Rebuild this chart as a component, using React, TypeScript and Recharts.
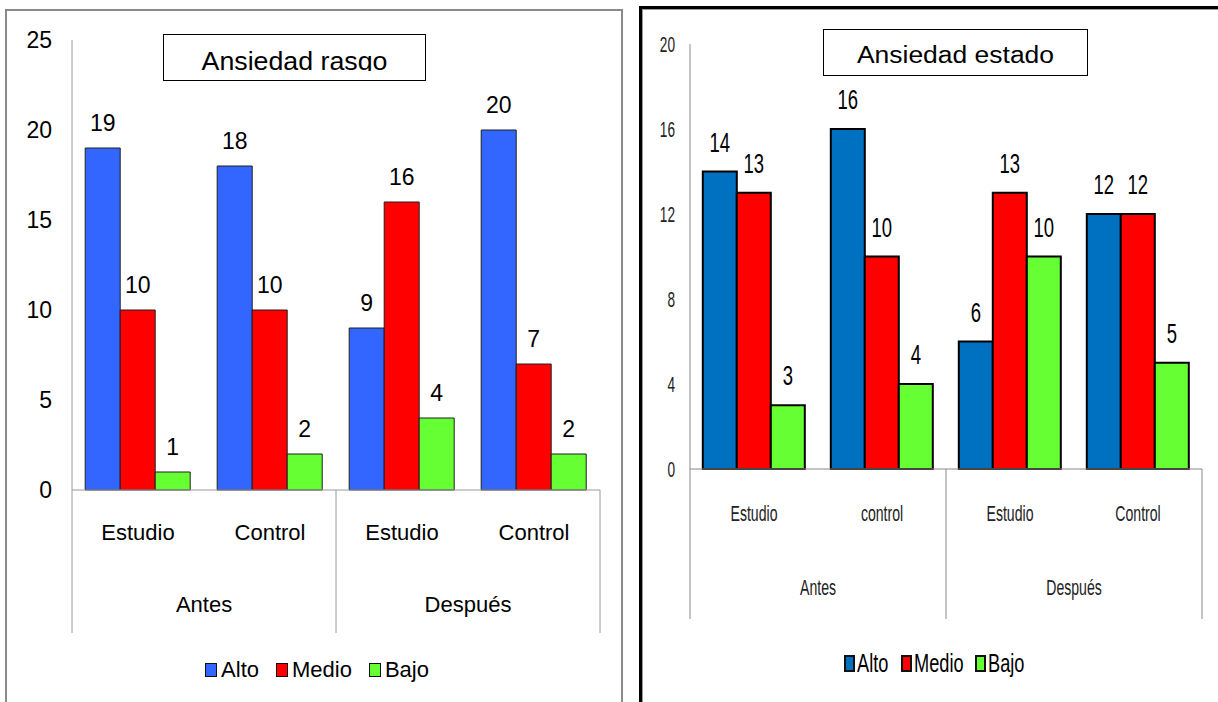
import React from 'react';
import { BarChart, Bar, XAxis, YAxis, Legend, LabelList } from 'recharts';

// ---------- data ----------
const seriesNames = ['Alto', 'Medio', 'Bajo'];

const rasgoCategories = ['Estudio', 'Control', 'Estudio', 'Control'];
const rasgoGroups = ['Antes', 'Antes', 'Después', 'Después'];
const rasgoAlto = [19, 18, 9, 20];
const rasgoMedio = [10, 10, 16, 7];
const rasgoBajo = [1, 2, 4, 2];
const rasgoTicks = [0, 5, 10, 15, 20, 25];

const estadoCategories = ['Estudio', 'control', 'Estudio', 'Control'];
const estadoGroups = ['Antes', 'Antes', 'Después', 'Después'];
const estadoAlto = [14, 16, 6, 12];
const estadoMedio = [13, 10, 13, 12];
const estadoBajo = [3, 4, 10, 5];
const estadoTicks = [0, 4, 8, 12, 16, 20];

const rasgoColors = ['#3366FF', '#FF0000', '#66FF33'];
const estadoColors = ['#0070C0', '#FF0000', '#66FF33'];

const buildRows = (cats: string[], groups: string[], a: number[], m: number[], b: number[]) =>
  cats.map((c, i) => ({ name: c, group: groups[i], [seriesNames[0]]: a[i], [seriesNames[1]]: m[i], [seriesNames[2]]: b[i] }));

const rasgoRows = buildRows(rasgoCategories, rasgoGroups, rasgoAlto, rasgoMedio, rasgoBajo);
const estadoRows = buildRows(estadoCategories, estadoGroups, estadoAlto, estadoMedio, estadoBajo);

const ARIAL = "'Liberation Sans', Arial, Helvetica, sans-serif";

// ---------- helpers ----------
const measureText = (text: string, size: number, family: string) => {
  try {
    const ctx = document.createElement('canvas').getContext('2d');
    if (ctx) {
      ctx.font = `${size}px ${family}`;
      return ctx.measureText(text).width;
    }
  } catch (e) {
    /* ignore */
  }
  return text.length * size * 0.55;
};

const ScaledText = ({ x, y, sx = 1, anchor = 'middle', size, fill = '#000', family = ARIAL, children }: any) => (
  <text
    transform={`translate(${x},${y}) scale(${sx},1)`}
    x={0}
    y={0}
    textAnchor={anchor}
    fontSize={size}
    fontFamily={family}
    fill={fill}
  >
    {children}
  </text>
);

type TickOpts = {
  groups: string[];
  catDy: number;
  groupDy: number;
  lineLen: number;
  size: number;
  sx: number;
  fill: string;
  lineColor: string;
};

const makeGroupedTick = (o: TickOpts) => (props: any) => {
  const { x, y, payload, index, width, visibleTicksCount } = props;
  const count = visibleTicksCount || o.groups.length;
  const half = payload && payload.offset ? payload.offset : width / count / 2;
  const g = o.groups[index];
  const isFirst = index === 0 || o.groups[index - 1] !== g;
  const isLast = index === o.groups.length - 1 || o.groups[index + 1] !== g;
  const size = o.groups.filter((gg) => gg === g).length;
  const groupCenter = x - half + size * half;
  return (
    <g>
      <ScaledText x={x} y={y + o.catDy} sx={o.sx} size={o.size} fill={o.fill}>
        {payload.value}
      </ScaledText>
      {isFirst && (
        <ScaledText x={groupCenter} y={y + o.groupDy} sx={o.sx} size={o.size} fill={o.fill}>
          {g}
        </ScaledText>
      )}
      {index === 0 && (
        <line x1={x - half} x2={x - half} y1={y} y2={y + o.lineLen} stroke={o.lineColor} strokeWidth={1} />
      )}
      {isLast && (
        <line x1={x + half} x2={x + half} y1={y} y2={y + o.lineLen} stroke={o.lineColor} strokeWidth={1} />
      )}
    </g>
  );
};

const makeYTick = (size: number, sx: number, fill: string) => (props: any) => (
  <ScaledText x={props.x} y={props.y + size * 0.35} sx={sx} anchor="end" size={size} fill={fill}>
    {props.payload.value}
  </ScaledText>
);

const makeValueLabel = (size: number, sx: number, gap: number, fill: string) => (props: any) => {
  const { x, y, width, value } = props;
  return (
    <ScaledText x={Number(x) + Number(width) / 2} y={Number(y) - gap} sx={sx} size={size} fill={fill}>
      {value}
    </ScaledText>
  );
};

type LegendOpts = {
  size: number;
  sx: number;
  iconW: number;
  iconH: number;
  iconBorder: number;
  iconGap: number;
  itemGap: number;
  color: string;
};

const makeLegend = (o: LegendOpts) => (props: any) => {
  const payload = [...(props.payload || [])].sort(
    (a: any, b: any) => seriesNames.indexOf(String(a.value)) - seriesNames.indexOf(String(b.value))
  );
  return (
    <div
      style={{
        display: 'flex',
        justifyContent: 'center',
        alignItems: 'center',
        height: 30,
        fontFamily: ARIAL,
        fontSize: o.size,
        color: o.color,
      }}
    >
      {payload.map((p: any, i: number) => {
        const label = String(p.value);
        const w = measureText(label, o.size, ARIAL) * o.sx;
        return (
          <span
            key={label}
            style={{ display: 'flex', alignItems: 'center', marginRight: i < payload.length - 1 ? o.itemGap : 0 }}
          >
            <span
              style={{
                display: 'inline-block',
                width: o.iconW,
                height: o.iconH,
                background: p.color,
                border: `${o.iconBorder}px solid #111`,
                boxSizing: 'border-box',
                marginRight: o.iconGap,
              }}
            />
            <span style={{ display: 'inline-block', width: w, lineHeight: `${o.size}px`, whiteSpace: 'nowrap' }}>
              <span
                style={{
                  display: 'inline-block',
                  transform: `scaleX(${o.sx})`,
                  transformOrigin: 'left center',
                }}
              >
                {label}
              </span>
            </span>
          </span>
        );
      })}
    </div>
  );
};

// ---------- left chart: Ansiedad rasgo ----------
const RasgoChart = () => (
  <BarChart
    width={625}
    height={702}
    data={rasgoRows}
    margin={{ top: 40, right: 25, bottom: 70, left: 0 }}
    barCategoryGap="10%"
    barGap={0}
  >
    <XAxis
      dataKey="name"
      interval={0}
      height={142}
      tickSize={0}
      tickMargin={0}
      tickLine={false}
      axisLine={{ stroke: '#9a9a9a' }}
      tick={makeGroupedTick({
        groups: rasgoGroups,
        catDy: 50,
        groupDy: 122,
        lineLen: 143,
        size: 22,
        sx: 1,
        fill: '#000',
        lineColor: '#9a9a9a',
      })}
    />
    <YAxis
      width={72}
      domain={[0, 25]}
      ticks={rasgoTicks}
      interval={0}
      tickSize={0}
      tickMargin={20}
      tickLine={false}
      axisLine={{ stroke: '#9a9a9a' }}
      tick={makeYTick(23, 1, '#000')}
    />
    <Legend
      verticalAlign="middle"
      align="center"
      layout="horizontal"
      wrapperStyle={{ top: 655, left: 0, width: 634 }}
      content={makeLegend({
        size: 22,
        sx: 1,
        iconW: 12,
        iconH: 14,
        iconBorder: 1,
        iconGap: 4,
        itemGap: 17,
        color: '#000',
      })}
    />
    {seriesNames.map((s, i) => (
      <Bar key={s} dataKey={s} name={s} fill={rasgoColors[i]} stroke="#1e1e1e" strokeWidth={1} isAnimationActive={false}>
        <LabelList dataKey={s} content={makeValueLabel(23, 1, 17, '#000')} />
      </Bar>
    ))}
  </BarChart>
);

// ---------- right chart: Ansiedad estado ----------
const EstadoChart = () => (
  <BarChart
    width={575}
    height={702}
    data={estadoRows}
    margin={{ top: 44, right: 16, bottom: 83, left: 0 }}
    barCategoryGap="10%"
    barGap={0}
  >
    <XAxis
      dataKey="name"
      interval={0}
      height={150}
      tickSize={0}
      tickMargin={0}
      tickLine={false}
      axisLine={{ stroke: '#8a8a8a' }}
      tick={makeGroupedTick({
        groups: estadoGroups,
        catDy: 52,
        groupDy: 126,
        lineLen: 150,
        size: 22,
        sx: 0.64,
        fill: '#222',
        lineColor: '#8a8a8a',
      })}
    />
    <YAxis
      width={47}
      domain={[0, 20]}
      ticks={estadoTicks}
      interval={0}
      tickSize={0}
      tickMargin={15}
      tickLine={false}
      axisLine={{ stroke: '#8a8a8a' }}
      tick={makeYTick(22, 0.62, '#222')}
    />
    <Legend
      verticalAlign="middle"
      align="center"
      layout="horizontal"
      wrapperStyle={{ top: 648, left: 0, width: 583 }}
      content={makeLegend({
        size: 26,
        sx: 0.7,
        iconW: 11,
        iconH: 17,
        iconBorder: 2,
        iconGap: 2,
        itemGap: 12,
        color: '#000',
      })}
    />
    {seriesNames.map((s, i) => (
      <Bar key={s} dataKey={s} name={s} fill={estadoColors[i]} stroke="#000" strokeWidth={2} isAnimationActive={false}>
        <LabelList dataKey={s} content={makeValueLabel(28, 0.66, 20, '#000')} />
      </Bar>
    ))}
  </BarChart>
);

const TitleBox = ({ left, top, width, height, text, size, sx, padTop, clipH }: any) => (
  <div
    style={{
      position: 'absolute',
      left,
      top,
      width,
      height,
      border: '1.5px solid #000',
      boxSizing: 'border-box',
      background: '#fff',
    }}
  >
    <div style={{ position: 'absolute', left: 0, right: 0, top: 0, height: clipH, overflow: 'hidden' }}>
      <div
        style={{
          paddingTop: padTop,
          fontFamily: ARIAL,
          fontSize: size,
          lineHeight: `${size}px`,
          textAlign: 'center',
          color: '#000',
          whiteSpace: 'nowrap',
          transform: `scaleX(${sx})`,
          transformOrigin: 'center',
        }}
      >
        {text}
      </div>
    </div>
  </div>
);

export default function App() {
  return (
    <div
      style={{
        position: 'absolute',
        left: 0,
        top: 0,
        width: 1218,
        height: 702,
        overflow: 'hidden',
        background: '#fff',
      }}
    >
      {/* frames */}
      <div
        style={{
          position: 'absolute',
          left: 5,
          top: 9,
          width: 618,
          height: 720,
          border: '2px solid #8a8a8a',
          boxSizing: 'border-box',
        }}
      />
      <div
        style={{
          position: 'absolute',
          left: 639,
          top: 6,
          width: 640,
          height: 720,
          border: '3px solid #000',
          boxSizing: 'border-box',
        }}
      />
      <div
        style={{
          position: 'absolute',
          left: 642,
          top: 9,
          width: 620,
          height: 720,
          borderLeft: '1px solid #999',
          borderTop: '1px solid #999',
          boxSizing: 'border-box',
        }}
      />

      <div style={{ position: 'absolute', left: 0, top: 0 }}>
        <RasgoChart />
      </div>
      <div style={{ position: 'absolute', left: 643, top: 0 }}>
        <EstadoChart />
      </div>

      <TitleBox left={163} top={34} width={263} height={47} text="Ansiedad rasgo" size={25} sx={1.07} padTop={13.5} clipH={36} />
      <TitleBox left={823} top={29} width={265} height={47} text="Ansiedad estado" size={23} sx={1.15} padTop={14.3} clipH={40} />
    </div>
  );
}
